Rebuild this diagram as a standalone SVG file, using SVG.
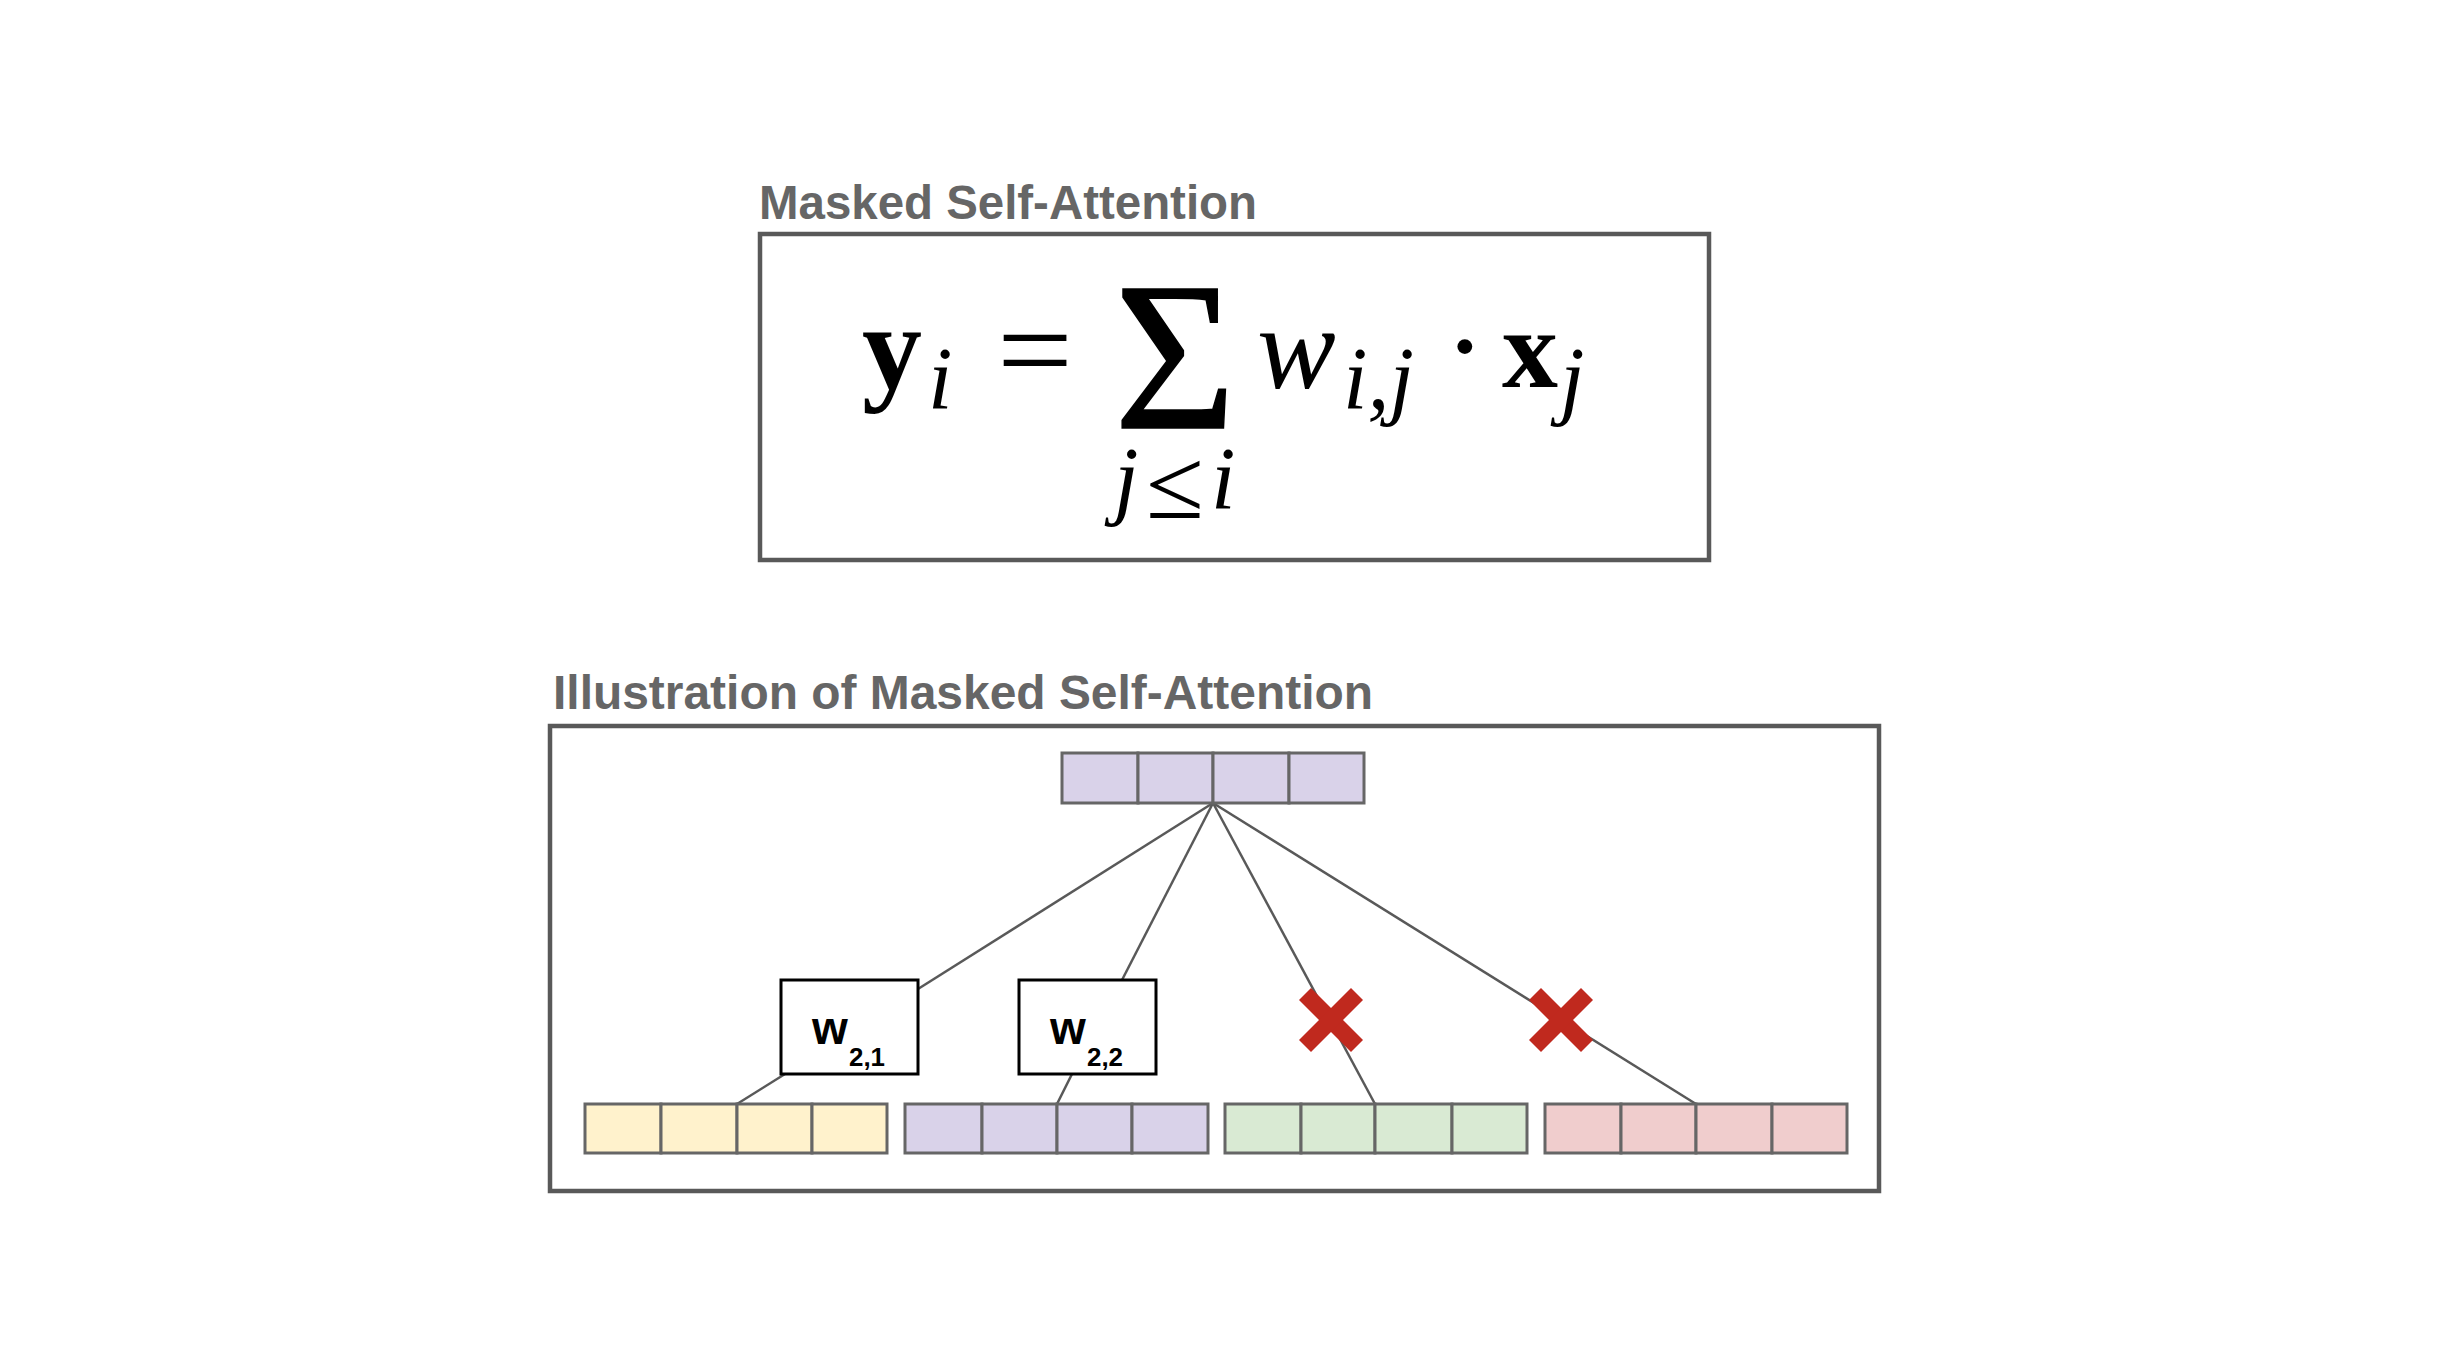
<svg xmlns="http://www.w3.org/2000/svg" width="2438" height="1350" viewBox="0 0 2438 1350">
<defs>
<style>
.title{font-family:"Liberation Sans",Arial,sans-serif;font-weight:bold;font-size:48px;fill:#666666}
.frame{fill:none;stroke:#595959;stroke-width:4.5}
.math{font-family:"Liberation Serif","Times New Roman",serif;fill:#000}
.b{font-weight:bold}
.it{font-style:italic}
.cell{stroke:#666666;stroke-width:3}
.pur{fill:#d9d2e9}
.yel{fill:#fff2cc}
.grn{fill:#d9ead3}
.red{fill:#f0cdcd}
.wbox{fill:#fff;stroke:#000;stroke-width:3}
.wt{font-family:"Liberation Sans",Arial,sans-serif;font-weight:bold;fill:#000}
.conn{stroke:#595959;stroke-width:2.5;fill:none}
.xm{stroke:#c0291e;stroke-width:17;stroke-linecap:butt}
</style>
</defs>
<rect width="2438" height="1350" fill="#fff"/>

<g id="formula-section">
<text class="title" x="759" y="219" textLength="498" lengthAdjust="spacingAndGlyphs">Masked Self-Attention</text>
<rect class="frame" x="760" y="234" width="949" height="326"/>
<g id="formula">
<text class="math b" x="862" y="388" font-size="120">y</text>
<text class="math it" x="928" y="408" font-size="88">i</text>
<text class="math" x="997" y="392" font-size="125" textLength="76" lengthAdjust="spacingAndGlyphs">=</text>
<text class="math" x="1114" y="428" font-size="212" textLength="122" lengthAdjust="spacingAndGlyphs" stroke="#000" stroke-width="1.5">Σ</text>
<text class="math it" x="1257" y="388" font-size="118">w</text>
<text class="math it" x="1343" y="408" font-size="88">i,j</text>
<text class="math" x="1444" y="388" font-size="125">·</text>
<text class="math b" x="1502" y="387" font-size="112">x</text>
<text class="math it" x="1560" y="408" font-size="88">j</text>
<text class="math it" x="1114" y="508" font-size="88">j</text>
<text class="math" x="1146" y="518" font-size="100" textLength="58" lengthAdjust="spacingAndGlyphs">≤</text>
<text class="math it" x="1211" y="508" font-size="88">i</text>
</g>
</g>

<g id="illustration">
<text class="title" x="553" y="709" textLength="820" lengthAdjust="spacingAndGlyphs">Illustration of Masked Self-Attention</text>
<rect class="frame" x="550" y="726" width="1329" height="465"/>

<g id="connectors">
<line class="conn" x1="1213" y1="803" x2="918" y2="989"/>
<line class="conn" x1="1213" y1="803" x2="1122" y2="980"/>
<line class="conn" x1="1213" y1="803" x2="1375" y2="1104"/>
<line class="conn" x1="1213" y1="803" x2="1696" y2="1104"/>
<line class="conn" x1="785" y1="1074" x2="737" y2="1104"/>
<line class="conn" x1="1072" y1="1074" x2="1057" y2="1104"/>
</g>

<g id="output-vector">
<rect class="cell pur" x="1062" y="753" width="76" height="50"/>
<rect class="cell pur" x="1138" y="753" width="75" height="50"/>
<rect class="cell pur" x="1213" y="753" width="76" height="50"/>
<rect class="cell pur" x="1289" y="753" width="75" height="50"/>
</g>

<g id="w21">
<rect class="wbox" x="781" y="980" width="137" height="94"/>
<text class="wt" x="812" y="1044" font-size="46">w</text>
<text class="wt" x="849" y="1066" font-size="25" textLength="36" lengthAdjust="spacingAndGlyphs">2,1</text>
</g>
<g id="w22">
<rect class="wbox" x="1019" y="980" width="137" height="94"/>
<text class="wt" x="1050" y="1044" font-size="46">w</text>
<text class="wt" x="1087" y="1066" font-size="25" textLength="36" lengthAdjust="spacingAndGlyphs">2,2</text>
</g>

<g id="mask-x1">
<line class="xm" x1="1305" y1="994" x2="1357" y2="1046"/>
<line class="xm" x1="1357" y1="994" x2="1305" y2="1046"/>
</g>
<g id="mask-x2">
<line class="xm" x1="1535" y1="994" x2="1587" y2="1046"/>
<line class="xm" x1="1587" y1="994" x2="1535" y2="1046"/>
</g>

<g id="input-x1">
<rect class="cell yel" x="585" y="1104" width="76" height="49"/>
<rect class="cell yel" x="661" y="1104" width="76" height="49"/>
<rect class="cell yel" x="737" y="1104" width="75" height="49"/>
<rect class="cell yel" x="812" y="1104" width="75" height="49"/>
</g>
<g id="input-x2">
<rect class="cell pur" x="905" y="1104" width="77" height="49"/>
<rect class="cell pur" x="982" y="1104" width="75" height="49"/>
<rect class="cell pur" x="1057" y="1104" width="75" height="49"/>
<rect class="cell pur" x="1132" y="1104" width="76" height="49"/>
</g>
<g id="input-x3">
<rect class="cell grn" x="1225" y="1104" width="76" height="49"/>
<rect class="cell grn" x="1301" y="1104" width="74" height="49"/>
<rect class="cell grn" x="1375" y="1104" width="77" height="49"/>
<rect class="cell grn" x="1452" y="1104" width="75" height="49"/>
</g>
<g id="input-x4">
<rect class="cell red" x="1545" y="1104" width="76" height="49"/>
<rect class="cell red" x="1621" y="1104" width="75" height="49"/>
<rect class="cell red" x="1696" y="1104" width="76" height="49"/>
<rect class="cell red" x="1772" y="1104" width="75" height="49"/>
</g>
</g>
</svg>
